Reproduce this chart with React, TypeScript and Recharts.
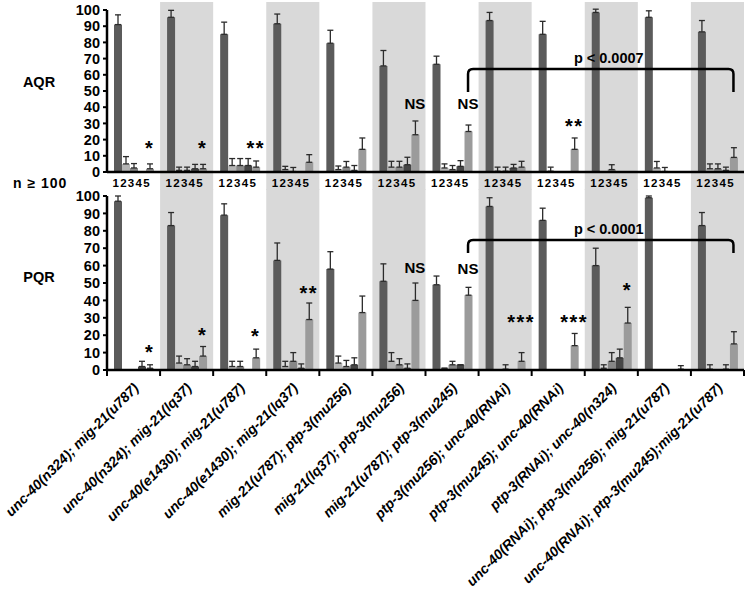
import React from "react";
import {
  BarChart,
  Bar,
  XAxis,
  YAxis,
  ErrorBar,
  ReferenceArea,
  ReferenceDot,
  ReferenceLine,
} from "recharts";

const FONT = '"Liberation Sans", Arial, Helvetica, sans-serif';
const W = 747;
const BAR5 = 16; // centre of bar 5 relative to the group centre (barSize 8, no gap)

const groups = [
  "unc-40(n324); mig-21(u787)",
  "unc-40(n324); mig-21(lq37)",
  "unc-40(e1430); mig-21(u787)",
  "unc-40(e1430); mig-21(lq37)",
  "mig-21(u787); ptp-3(mu256)",
  "mig-21(lq37); ptp-3(mu256)",
  "mig-21(u787); ptp-3(mu245)",
  "ptp-3(mu256); unc-40(RNAi)",
  "ptp-3(mu245); unc-40(RNAi)",
  "ptp-3(RNAi); unc-40(n324)",
  "unc-40(RNAi); ptp-3(mu256); mig-21(u787)",
  "unc-40(RNAi); ptp-3(mu245);mig-21(u787)",
];
const shadedGroups = [1, 3, 5, 7, 9, 11];
const barNumbers = ["1", "2", "3", "4", "5"];
const barColors = ["#5b5b5b", "#b4b4b4", "#878787", "#464646", "#9b9b9b"];
const yTicks = [0, 10, 20, 30, 40, 50, 60, 70, 80, 90, 100];

// AQR (% of animals), bars 1-5 per genotype
const aqrBar1 = [91, 95.5, 85, 91.5, 79.5, 65.5, 66.5, 93.5, 85, 98.5, 95.5, 86.5];
const aqrBar2 = [5, 1, 4, 1.5, 1.5, 3, 2.5, 0.5, 0.5, 0, 2.5, 2];
const aqrBar3 = [2.5, 1, 4, 0.3, 3, 3, 1.5, 0.5, 0, 1.5, 0.3, 2];
const aqrBar4 = [0, 2, 4, 0, 1, 4.5, 3.5, 2.5, 0, 0, 0, 1];
const aqrBar5 = [2, 2, 3, 6, 14, 23, 25, 3, 14, 0, 0, 9];
const aqrErr1 = [6, 4.3, 7.5, 6, 8, 9.5, 5, 5, 8, 2, 4, 7];
const aqrErr2 = [4.5, 2, 4.3, 2, 2.2, 3.6, 2.5, 2.5, 2.5, 0, 4, 3];
const aqrErr3 = [2.7, 2, 4.3, 2.5, 3.5, 3.6, 2.5, 2.5, 0, 3, 2.5, 3];
const aqrErr4 = [0, 2.7, 4.3, 0, 3, 4.6, 3.5, 2.2, 0, 0, 0, 2];
const aqrErr5 = [3, 2.7, 3.8, 4.7, 7, 8.5, 4, 3.6, 7, 0, 2.5, 6];
const aqrNotes = ["*", "*", "**", "", "", "NS", "NS", "", "**", "", "", ""];
const aqrNoteY = [17.5, 17.5, 17.5, 0, 0, 42, 42, 0, 31, 0, 0, 0];

// PQR
const pqrBar1 = [97, 83, 89, 63, 58, 51, 49, 94, 86, 60, 99, 83];
const pqrBar2 = [0, 4, 2, 2, 4, 5, 1, 0, 0, 1, 0, 0.5];
const pqrBar3 = [0, 3, 2, 5, 2, 3, 3, 0.5, 0, 5, 0, 0];
const pqrBar4 = [2, 2, 0, 1, 3, 1, 3, 0, 0, 7, 0, 0.5];
const pqrBar5 = [1, 8, 7, 29, 33, 40, 43, 5, 14, 27, 0.5, 15];
const pqrErr1 = [3, 7.5, 6.5, 10, 10, 10, 5, 5, 7, 10, 1, 7.5];
const pqrErr2 = [0, 4, 3, 3, 4, 5, 0, 0, 0, 2, 0, 2.5];
const pqrErr3 = [0, 3.5, 3, 5, 3.5, 3.5, 2, 2.5, 0, 5, 0, 0];
const pqrErr4 = [3, 3, 0, 2.5, 4, 2.5, 0, 0, 0, 5, 0, 2.5];
const pqrErr5 = [2, 5.5, 5, 9.5, 9.5, 10, 4.5, 5, 7, 9, 2, 7];
const pqrNotes = ["*", "*", "*", "**", "", "NS", "NS", "***", "***", "*", "", ""];
const pqrNoteY = [12.7, 22.6, 22.2, 46.5, 0, 58.8, 58.2, 30, 30, 48.6, 0, 0];

type Bracket = { from: number; to: number; top: number; foot: number; text: string };
const aqrBracket: Bracket = { from: 6, to: 11, top: 63.6, foot: 49.4, text: "p < 0.0007" };
const pqrBracket: Bracket = { from: 6, to: 11, top: 74.7, foot: 67.2, text: "p < 0.0001" };

function buildRows(means: number[][], errs: number[][]) {
  return groups.map((g, i) => {
    const row: Record<string, any> = { g };
    means.forEach((m, k) => {
      row[`b${k + 1}`] = m[i];
      row[`e${k + 1}`] = [0, errs[k][i]];
    });
    return row;
  });
}

const aqrRows = buildRows(
  [aqrBar1, aqrBar2, aqrBar3, aqrBar4, aqrBar5],
  [aqrErr1, aqrErr2, aqrErr3, aqrErr4, aqrErr5]
);
const pqrRows = buildRows(
  [pqrBar1, pqrBar2, pqrBar3, pqrBar4, pqrBar5],
  [pqrErr1, pqrErr2, pqrErr3, pqrErr4, pqrErr5]
);

const NumberTick = (p: any) => (
  <text y={p.y + 15} fontSize={11.5} fontWeight={700} fontFamily={FONT} fill="#000" textAnchor="middle">
    {barNumbers.map((n, i) => (
      <tspan key={n} x={p.x - 2.5 + (i - 2) * 7.7}>
        {n}
      </tspan>
    ))}
  </text>
);

const GroupTick = (p: any) => {
  const { x, y, payload, index } = p;
  const half = payload?.offset ?? 26.6;
  const ax = x + 6;
  const ay = y + 19;
  return (
    <g>
      <line x1={x - half} x2={x - half} y1={y} y2={y + 6} stroke="#000" strokeWidth={2} />
      {index === groups.length - 1 && (
        <line x1={x + half} x2={x + half} y1={y} y2={y + 6} stroke="#000" strokeWidth={2} />
      )}
      <text
        x={ax}
        y={ay}
        transform={`rotate(-45 ${ax} ${ay})`}
        textAnchor="end"
        fontSize={14}
        fontWeight={700}
        fontStyle="italic"
        fontFamily={FONT}
        fill="#000"
      >
        {payload.value}
      </text>
    </g>
  );
};

const noteShape = (text: string) => (p: any) => {
  const star = text.startsWith("*");
  const fs = star ? 20 : 15;
  const base = p.cy + (star ? 0.56 : 0.36) * fs;
  return (
    <text
      x={p.cx + BAR5}
      y={base}
      fontSize={fs}
      fontWeight={700}
      fontFamily={FONT}
      fill="#000"
      textAnchor="middle"
      letterSpacing={star ? 1.5 : 0}
    >
      {text}
    </text>
  );
};

const bracketShape = (legPx: number, label: string) => (p: any) => {
  const xa = p.x1 + BAR5;
  const xb = p.x2 + BAR5;
  const y = p.y1;
  const r = 5;
  return (
    <g>
      <path
        d={`M${xa},${y + legPx} L${xa},${y + r} Q${xa},${y} ${xa + r},${y} L${xb - r},${y} Q${xb},${y} ${xb},${y + r} L${xb},${y + legPx}`}
        fill="none"
        stroke="#000"
        strokeWidth={2.5}
      />
      <text
        x={(xa + xb) / 2 + 8}
        y={y - 6}
        textAnchor="middle"
        fontSize={14.5}
        fontWeight={700}
        fontFamily={FONT}
        fill="#000"
      >
        {label}
      </text>
    </g>
  );
};

type PanelProps = {
  name: string;
  nameDy: number;
  showN: boolean;
  rows: Record<string, any>[];
  notes: string[];
  noteY: number[];
  bracket: Bracket;
  height: number;
  marginTop: number;
  xAxisHeight: number;
  shadeLow: number;
  shadeHigh: number;
  bottom: boolean;
};

function Panel(props: PanelProps) {
  const { name, nameDy, showN, rows, notes, noteY, bracket, height, marginTop, xAxisHeight, shadeLow, shadeHigh, bottom } = props;
  const plotH = height - marginTop - xAxisHeight;
  const legPx = ((bracket.top - bracket.foot) * plotH) / 100;

  return (
    <BarChart
      width={W}
      height={height}
      data={rows}
      margin={{ top: marginTop, right: 3, left: 0, bottom: 0 }}
      barGap={0}
    >
      {shadedGroups.map((i) => (
        <ReferenceArea
          key={`s${i}`}
          x1={groups[i]}
          x2={groups[i]}
          y1={shadeLow}
          y2={shadeHigh}
          fill="#d9d9d9"
          fillOpacity={1}
          stroke="none"
          ifOverflow="visible"
        />
      ))}
      <XAxis
        dataKey="g"
        type="category"
        interval={0}
        height={xAxisHeight}
        tickLine={false}
        tickSize={0}
        tickMargin={0}
        axisLine={{ stroke: "#000", strokeWidth: 2.5 }}
        tick={bottom ? <GroupTick /> : <NumberTick />}
      />
      <YAxis
        type="number"
        domain={[0, 100]}
        ticks={yTicks}
        interval={0}
        allowDataOverflow
        width={107}
        tickSize={4}
        tickMargin={3}
        axisLine={{ stroke: "#000", strokeWidth: 2.5 }}
        tickLine={{ stroke: "#000", strokeWidth: 2 }}
        tick={{ fill: "#000", fontSize: 14.5, fontWeight: 700, fontFamily: FONT }}
        label={{
          content: (p: any) => {
            const vb = p.viewBox;
            return (
              <g fontFamily={FONT} fontWeight={700} fill="#000">
                <text x={39} y={vb.y + vb.height / 2 + nameDy} fontSize={14.5} textAnchor="middle">
                  {name}
                </text>
                {showN && (
                  <text x={13} y={vb.y + vb.height + 16} fontSize={14} letterSpacing={1}>
                    n ≥ 100
                  </text>
                )}
              </g>
            );
          },
        }}
      />
      {barColors.map((c, k) => (
        <Bar key={k} dataKey={`b${k + 1}`} fill={c} barSize={8} isAnimationActive={false}>
          <ErrorBar dataKey={`e${k + 1}`} direction="y" width={3} stroke="#2b2b2b" strokeWidth={1.3} />
        </Bar>
      ))}
      {notes.map((t, i) =>
        t ? (
          <ReferenceDot key={`n${i}`} x={groups[i]} y={noteY[i]} r={0} shape={noteShape(t)} />
        ) : null
      )}
      <ReferenceLine
        segment={[
          { x: groups[bracket.from], y: bracket.top },
          { x: groups[bracket.to], y: bracket.top },
        ]}
        shape={bracketShape(legPx, bracket.text)}
      />
    </BarChart>
  );
}

export default function App() {
  return (
    <div style={{ position: "absolute", left: 0, top: 0, width: W, height: 595, background: "#fff", fontFamily: FONT }}>
      <div style={{ position: "absolute", left: 0, top: 0 }}>
        <Panel
          name="AQR"
          nameDy={-4}
          showN
          rows={aqrRows}
          notes={aqrNotes}
          noteY={aqrNoteY}
          bracket={aqrBracket}
          height={190}
          marginTop={10}
          xAxisHeight={18}
          shadeLow={-11.2}
          shadeHigh={105}
          bottom={false}
        />
      </div>
      <div style={{ position: "absolute", left: 0, top: 180 }}>
        <Panel
          name="PQR"
          nameDy={-1}
          showN={false}
          rows={pqrRows}
          notes={pqrNotes}
          noteY={pqrNoteY}
          bracket={pqrBracket}
          height={415}
          marginTop={16}
          xAxisHeight={225}
          shadeLow={0}
          shadeHigh={104}
          bottom
        />
      </div>
    </div>
  );
}
